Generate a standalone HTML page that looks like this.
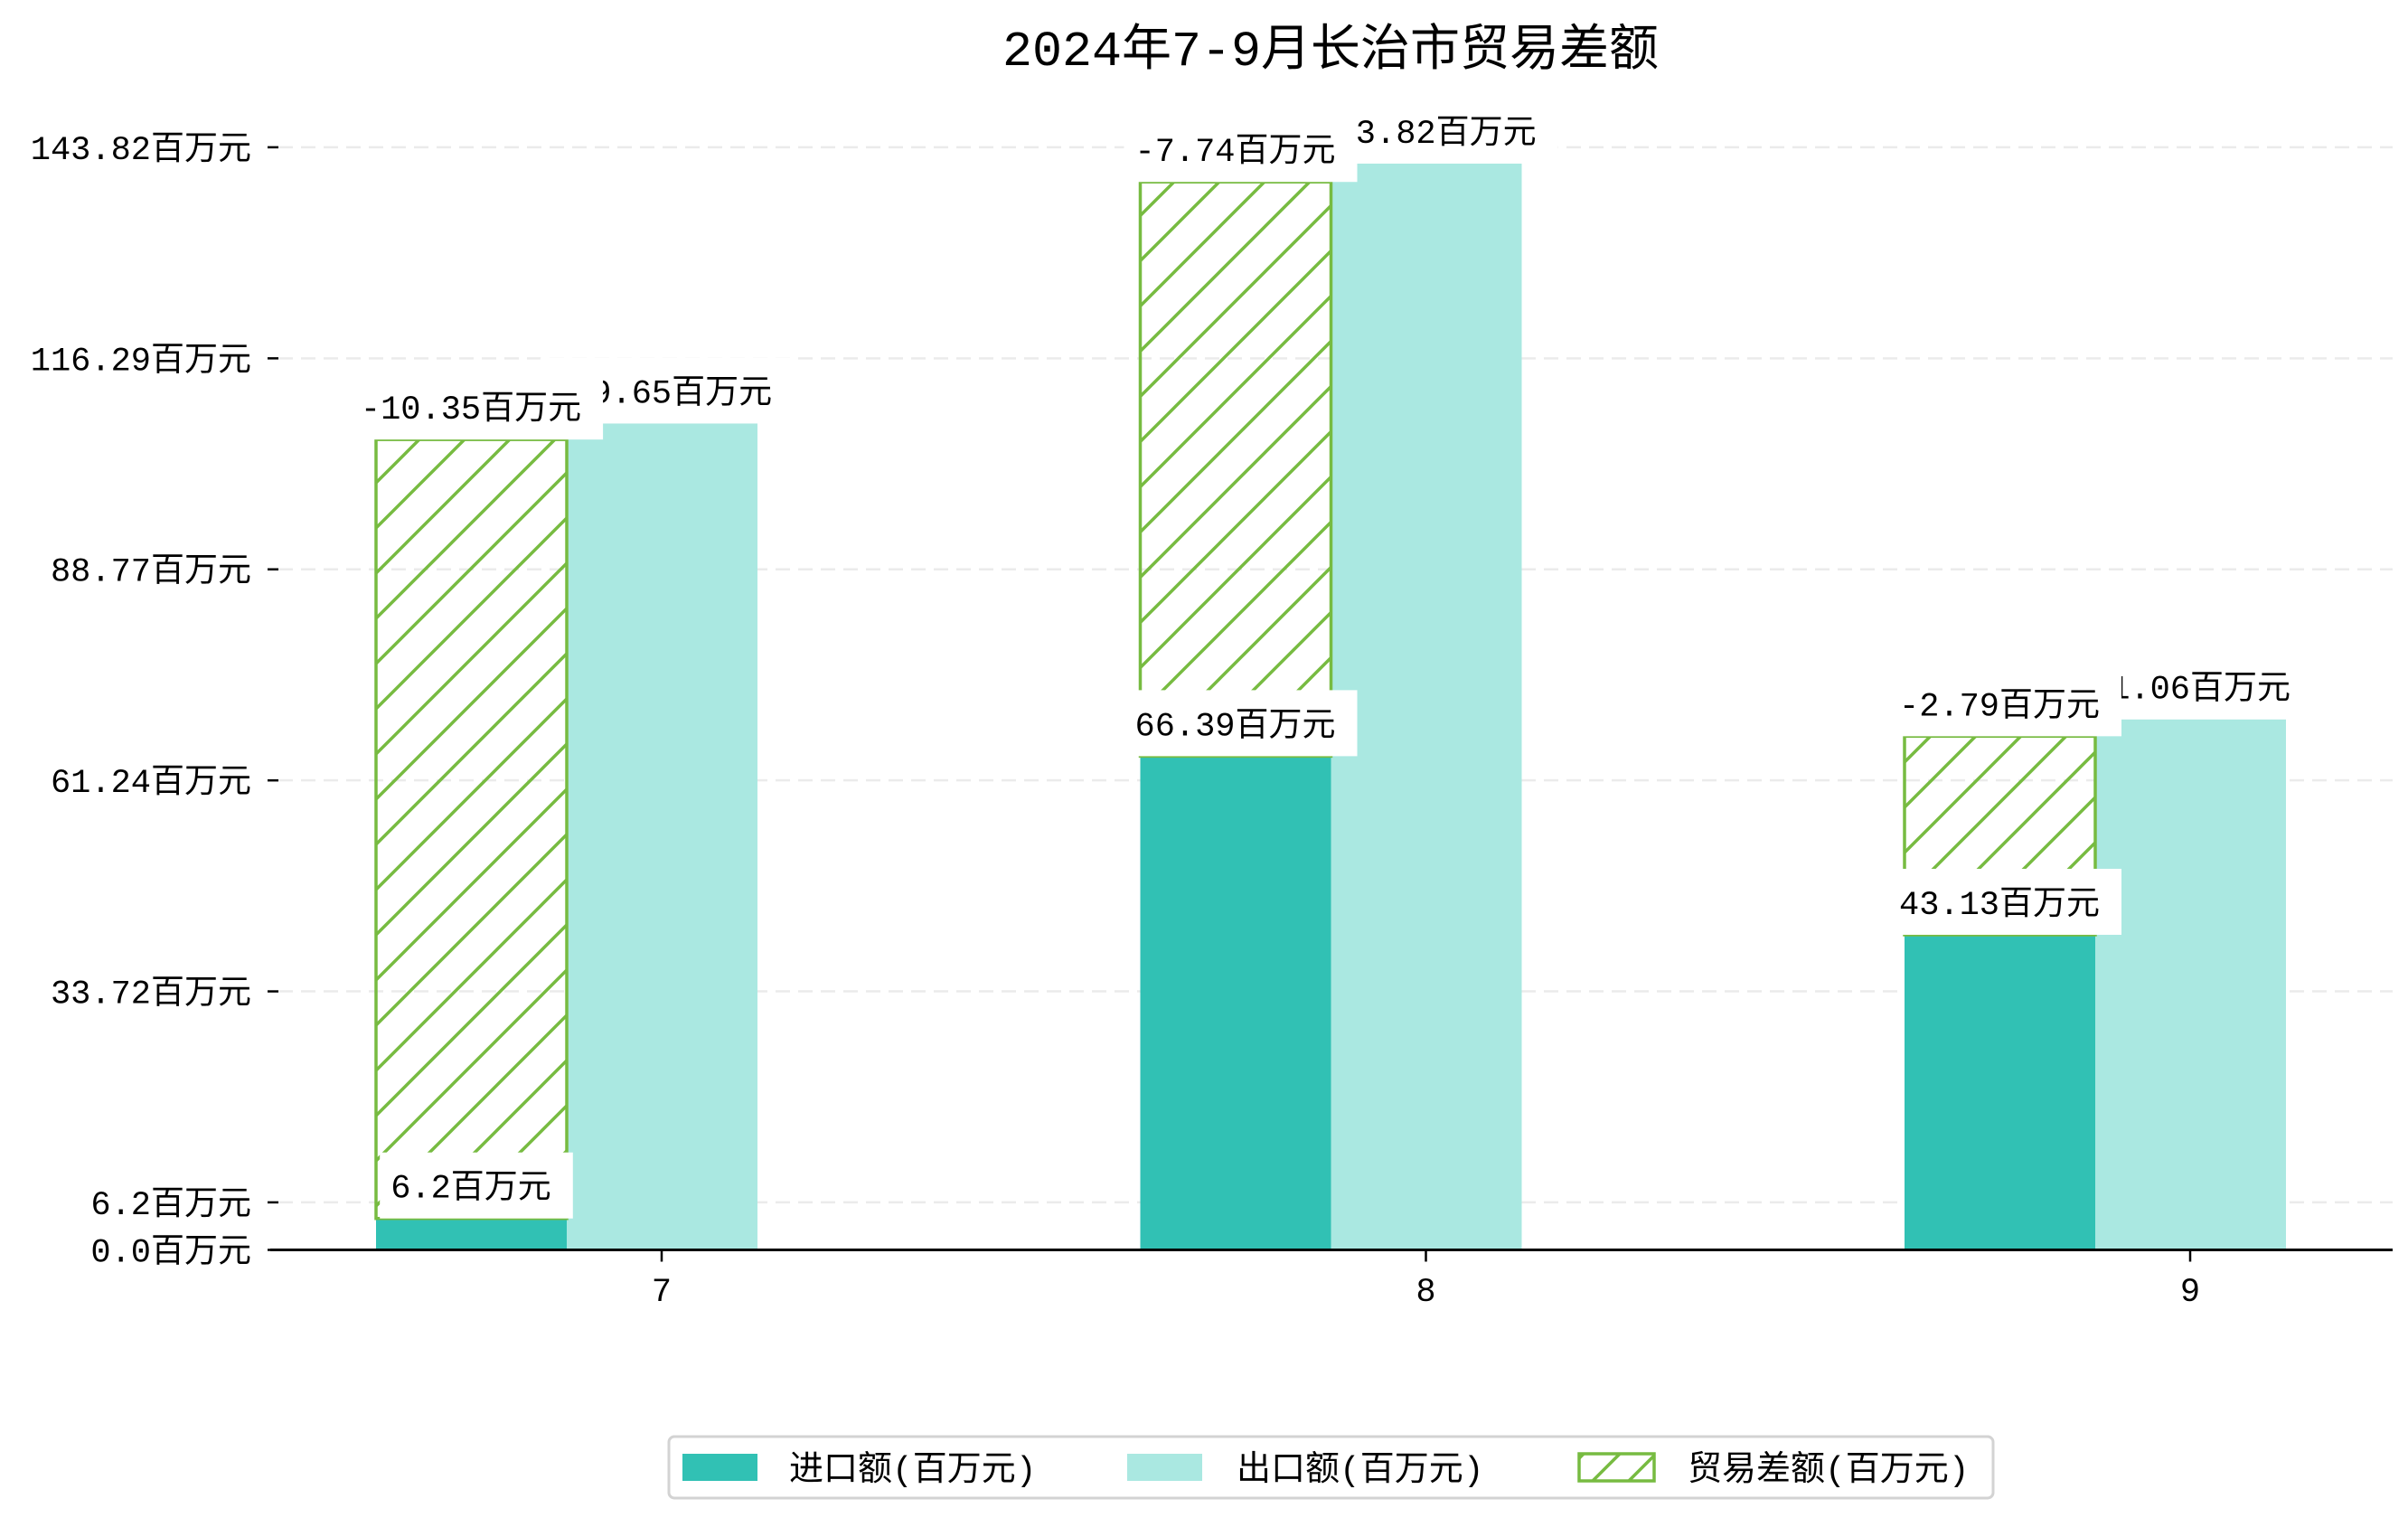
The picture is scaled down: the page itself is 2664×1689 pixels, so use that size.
<!DOCTYPE html>
<html><head><meta charset="utf-8"><style>
html,body{margin:0;padding:0;background:#fff;}
svg{display:block;}
text{font-family:"Liberation Mono","Noto Sans CJK SC",monospace;fill:#000;}
</style></head><body>
<svg id="chart" width="2664" height="1689" viewBox="0 0 2664 1689" xmlns="http://www.w3.org/2000/svg">
<defs>
<pattern id="hatch" patternUnits="userSpaceOnUse" width="50" height="50">
<line x1="0" y1="50" x2="50" y2="0" stroke="#77bb41" stroke-width="3.5"/>
<line x1="-10" y1="10" x2="10" y2="-10" stroke="#77bb41" stroke-width="3.5"/>
<line x1="40" y1="60" x2="60" y2="40" stroke="#77bb41" stroke-width="3.5"/>
</pattern>
<pattern id="hatchLegend" patternUnits="userSpaceOnUse" width="40" height="40">
<line x1="0" y1="40" x2="40" y2="0" stroke="#77bb41" stroke-width="3.5"/>
</pattern>
</defs>
<text x="1472" y="72" font-size="55" text-anchor="middle">2024年7-9月长治市贸易差额</text>
<g id="grid"></g>
<g id="bars"></g>
<g id="labels"></g>
<g id="axes"></g>
<g>
<rect x="740" y="1589" width="1465" height="68" rx="6" fill="#fff" stroke="#d3d3d3" stroke-width="3"/>
<rect x="755" y="1608" width="83" height="30" fill="#31c1b4"/>
<text x="873" y="1637" font-size="38">进口额(百万元)</text>
<rect x="1247" y="1608" width="83" height="30" fill="#aae8e1"/>
<text x="1368" y="1637" font-size="38">出口额(百万元)</text>
<rect x="1747" y="1608" width="83" height="30" fill="url(#hatchLegend)" stroke="#77bb41" stroke-width="3.5"/>
<text x="1867" y="1637" font-size="38">贸易差额(百万元)</text>
</g>
</svg>
<script>
const categories = ["7", "8", "9"];
const importValues = [4.1, 64.4, 41.1];
const exportValues = [107.8, 141.7, 69.2];
const balanceTopValues = [105.7, 139.3, 67.0];
const importLabels = ["6.2", "66.39", "43.13"];
const exportLabels = ["109.65", "143.82", "71.06"];
const balanceLabels = ["-10.35", "-7.74", "-2.79"];
const yTickValues = [0, 6.2, 33.72, 61.24, 88.77, 116.29, 143.82];
const yTickLabels = ["0.0", "6.2", "33.72", "61.24", "88.77", "116.29", "143.82"];

const NS = "http://www.w3.org/2000/svg";
const Y0 = 1382.5, PPU = 8.48;
const X0 = 732, STEP = 845.5, BW = 211;
function yScale(v){ return Y0 - v * PPU; }
function xCenter(i){ return X0 + i * STEP; }
function mk(tag, attrs, parent){
  const e = document.createElementNS(NS, tag);
  for (const k in attrs) e.setAttribute(k, attrs[k]);
  parent.appendChild(e);
  return e;
}
const grid = document.getElementById('grid');
const bars = document.getElementById('bars');
const labels = document.getElementById('labels');
const axes = document.getElementById('axes');

yTickValues.forEach((v, i) => {
  const y = yScale(v);
  if (v !== 0) {
    const g = mk('line', {x1: 308, x2: 2647, y1: y, y2: y, stroke: '#ebebeb', 'stroke-width': 2.5, 'stroke-dasharray': '16 9'}, grid);
    
    
  }
  const t = mk('line', {x1: 296, x2: 308, y1: y, y2: y, stroke: '#000', 'stroke-width': 2.5}, axes);
  
  
  const lb = mk('text', {x: 278, y: y + 13, 'font-size': 37, 'text-anchor': 'end'}, axes);
  lb.textContent = yTickLabels[i] + '百万元';
  
  
});

const base = mk('line', {x1: 299, x2: 2647, y1: Y0, y2: Y0, stroke: '#000', 'stroke-width': 3}, axes);



function labelBox(txt, cx, bottom, name){
  const w = txt.length * 0.6 * 37 + 3 * 37;
  const bx = mk('rect', {x: cx - w/2 - 12, y: bottom - 73, width: w + 36, height: 73, fill: '#fff'}, labels);
  
  
  const t = mk('text', {x: cx, y: bottom - 23, 'font-size': 37, 'text-anchor': 'middle'}, labels);
  t.textContent = txt + '百万元';
  
  
}

categories.forEach((c, i) => {
  const cx = xCenter(i);
  const ix = cx - 1.5 * BW + 0.5, ex = cx - 0.5 * BW + 0.5;
  const ib = mk('rect', {x: ix, y: yScale(importValues[i]), width: BW, height: Y0 - yScale(importValues[i]), fill: '#31c1b4'}, bars);
  
  
  const eb = mk('rect', {x: ex, y: yScale(exportValues[i]), width: BW, height: Y0 - yScale(exportValues[i]), fill: '#aae8e1'}, bars);
  
  
  const top = yScale(balanceTopValues[i]), bot = yScale(importValues[i]);
  const hb = mk('rect', {x: ix, y: top, width: BW, height: bot - top, fill: 'url(#hatch)', stroke: '#77bb41', 'stroke-width': 3.5}, bars);
  
  
  const tk = mk('line', {x1: cx, x2: cx, y1: Y0, y2: Y0 + 13, stroke: '#000', 'stroke-width': 2.5}, axes);
  
  
  const tl = mk('text', {x: cx, y: 1439, 'font-size': 37, 'text-anchor': 'middle'}, axes);
  tl.textContent = c;
  
  
});

categories.forEach((c, i) => {
  labelBox(exportLabels[i], xCenter(i), yScale(exportValues[i]), 'export-value-label');
});
categories.forEach((c, i) => {
  labelBox(importLabels[i], xCenter(i) - BW, yScale(importValues[i]), 'import-value-label');
});
categories.forEach((c, i) => {
  labelBox(balanceLabels[i], xCenter(i) - BW, yScale(balanceTopValues[i]), 'balance-value-label');
});
</script>
</body></html>
